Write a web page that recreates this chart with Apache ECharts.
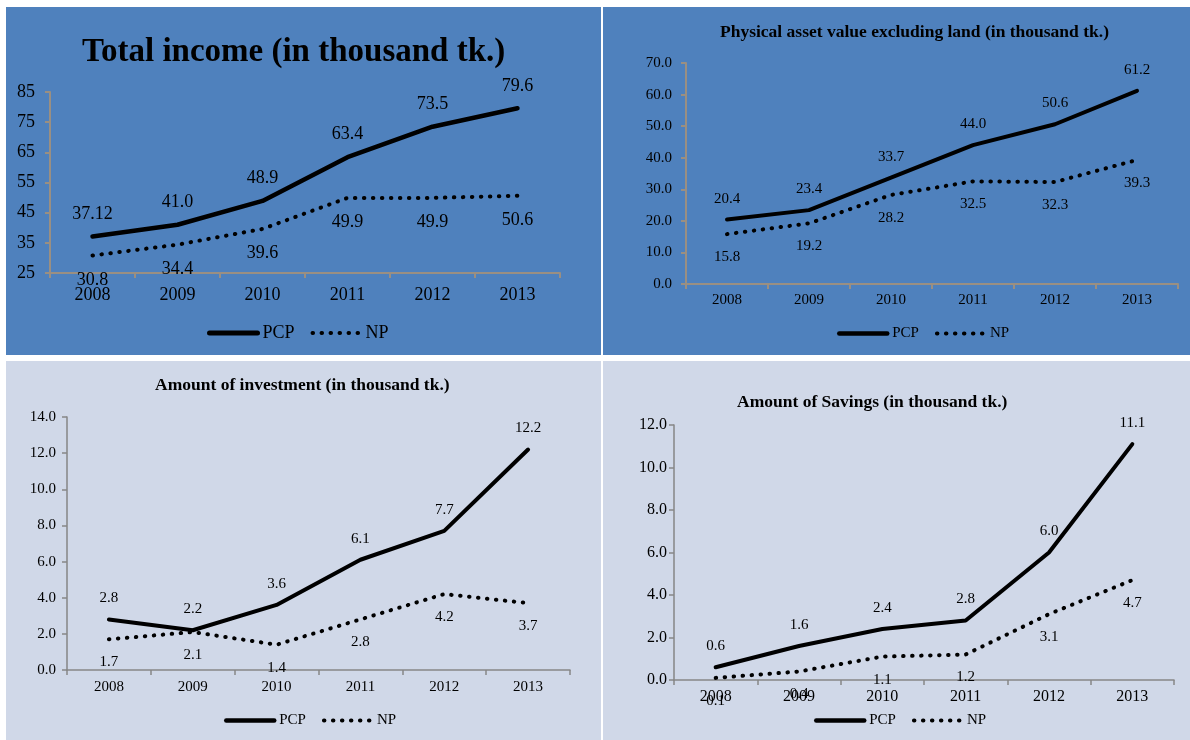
<!DOCTYPE html>
<html>
<head>
<meta charset="utf-8">
<script src="https://cdn.jsdelivr.net/npm/echarts@6/dist/echarts.min.js"></script>
<style>
  html, body { margin: 0; padding: 0; background: #fff; }
  body { width: 1190px; height: 740px; position: relative; overflow: hidden; }
  .panel { position: absolute; }
  #income  { left: 6px;   top: 7px;   width: 595px; height: 348px; background: #4f81bd; }
  #asset   { left: 603px; top: 7px;   width: 587px; height: 348px; background: #4f81bd; }
  #invest  { left: 6px;   top: 361px; width: 595px; height: 379px; background: #d0d8e8; }
  #savings { left: 603px; top: 361px; width: 587px; height: 379px; background: #d0d8e8; }
</style>
</head>
<body>
<div class="panel" id="income"></div>
<div class="panel" id="asset"></div>
<div class="panel" id="invest"></div>
<div class="panel" id="savings"></div>
<script>
  var years = ['2008', '2009', '2010', '2011', '2012', '2013'];

  // Total income
  var incomePCP = [37.12, 41.0, 48.9, 63.4, 73.5, 79.6];
  var incomeNP  = [30.8, 34.4, 39.6, 49.9, 49.9, 50.6];
  var incomeTicks = [25, 35, 45, 55, 65, 75, 85];

  // Physical asset value excluding land
  var assetPCP = [20.4, 23.4, 33.7, 44.0, 50.6, 61.2];
  var assetNP  = [15.8, 19.2, 28.2, 32.5, 32.3, 39.3];
  var assetTicks = [0, 10, 20, 30, 40, 50, 60, 70];

  // Amount of investment
  var investPCP = [2.8, 2.2, 3.6, 6.1, 7.7, 12.2];
  var investNP  = [1.7, 2.1, 1.4, 2.8, 4.2, 3.7];
  var investTicks = [0, 2, 4, 6, 8, 10, 12, 14];

  // Amount of Savings
  var savingsPCP = [0.6, 1.6, 2.4, 2.8, 6.0, 11.1];
  var savingsNP  = [0.1, 0.4, 1.1, 1.2, 3.1, 4.7];
  var savingsTicks = [0, 2, 4, 6, 8, 10, 12];

  var FONT = 'Liberation Serif';
  var DOTS = [0.5, 8.5];

  function fmtVal(v) {
    var t = v * 10;
    return Math.abs(t - Math.round(t)) < 1e-6 ? v.toFixed(1) : String(v);
  }

  function draw(id, c) {
    var chart = echarts.init(document.getElementById(id));
    var axisStyle = { color: c.axisColor, width: c.axisWidth };
    var solid = { color: '#000', width: c.lineWidth, cap: 'round' };
    var dotted = { color: '#000', width: 4, type: DOTS, cap: 'round' };
    function label(pos, dist) {
      return {
        show: true, position: pos, distance: dist, color: '#000',
        fontFamily: FONT, fontSize: c.labelSize,
        formatter: function (p) { return fmtVal(p.value); }
      };
    }
    chart.setOption({
      animation: false,
      title: {
        text: c.title, left: c.titleLeft, top: c.titleTop, padding: 0,
        textStyle: { fontFamily: FONT, fontWeight: 'bold', fontSize: c.titleSize, color: '#000' }
      },
      legend: {
        left: c.legendLeft, top: c.legendTop, padding: 0,
        itemWidth: 48, itemHeight: 14, itemGap: 16,
        textStyle: { fontFamily: FONT, fontSize: c.legendSize, color: '#000' },
        data: [
          { name: 'PCP', lineStyle: { color: '#000', width: c.lineWidth + 0.5, type: 'solid' }, itemStyle: { opacity: 0 } },
          { name: 'NP', lineStyle: { color: '#000', width: 4, type: DOTS, cap: 'round' }, itemStyle: { opacity: 0 } }
        ]
      },
      grid: c.grid,
      xAxis: {
        type: 'category', data: years, boundaryGap: true,
        axisLine: { show: true, lineStyle: axisStyle },
        axisTick: { show: true, length: 5, interval: 0, lineStyle: axisStyle },
        axisLabel: { margin: c.xMargin, color: '#000', fontFamily: FONT, fontSize: c.axisSize },
        splitLine: { show: false }
      },
      yAxis: {
        type: 'value',
        min: c.ticks[0], max: c.ticks[c.ticks.length - 1], interval: c.ticks[1] - c.ticks[0],
        axisLine: { show: true, lineStyle: axisStyle },
        axisTick: { show: true, length: 5, lineStyle: axisStyle },
        axisLabel: {
          margin: c.yMargin, color: '#000', fontFamily: FONT, fontSize: c.axisSize,
          formatter: function (v) { return c.intTicks ? String(v) : v.toFixed(1); }
        },
        splitLine: { show: false }
      },
      series: [
        {
          name: 'PCP', type: 'line', data: c.pcp,
          symbol: 'circle', symbolSize: 1,
          itemStyle: { color: 'transparent', borderWidth: 0 },
          lineStyle: solid,
          label: label('top', 13)
        },
        {
          name: 'NP', type: 'line', data: c.np,
          symbol: 'circle', symbolSize: 1,
          itemStyle: { color: 'transparent', borderWidth: 0 },
          lineStyle: dotted,
          label: label('bottom', 15)
        }
      ]
    });
  }

  draw('income', {
    title: 'Total income (in thousand tk.)', titleLeft: 76, titleTop: 29, titleSize: 33,
    legendLeft: 201, legendTop: 317, legendSize: 18,
    grid: { left: 44, right: 41, top: 85, bottom: 82, outerBoundsMode: 'none' },
    axisColor: '#9a8f82', axisWidth: 2, axisSize: 18, labelSize: 18,
    xMargin: 13, yMargin: 15, ticks: incomeTicks, intTicks: true,
    lineWidth: 4.5, pcp: incomePCP, np: incomeNP
  });

  draw('asset', {
    title: 'Physical asset value excluding land (in thousand tk.)', titleLeft: 117, titleTop: 16, titleSize: 17.5,
    legendLeft: 234, legendTop: 319, legendSize: 15,
    grid: { left: 83, right: 12, top: 56, bottom: 71, outerBoundsMode: 'none' },
    axisColor: '#9a8f82', axisWidth: 2, axisSize: 15, labelSize: 15,
    xMargin: 9, yMargin: 14, ticks: assetTicks, intTicks: false,
    lineWidth: 4, pcp: assetPCP, np: assetNP
  });

  draw('invest', {
    title: 'Amount of investment (in thousand tk.)', titleLeft: 149, titleTop: 15, titleSize: 17.5,
    legendLeft: 218, legendTop: 352, legendSize: 15,
    grid: { left: 61, right: 31, top: 56, bottom: 70, outerBoundsMode: 'none' },
    axisColor: '#868686', axisWidth: 1.5, axisSize: 15, labelSize: 15,
    xMargin: 10, yMargin: 11, ticks: investTicks, intTicks: false,
    lineWidth: 4, pcp: investPCP, np: investNP
  });

  draw('savings', {
    title: 'Amount of Savings (in thousand tk.)', titleLeft: 134, titleTop: 32, titleSize: 17.5,
    legendLeft: 211, legendTop: 352, legendSize: 15,
    grid: { left: 71, right: 16, top: 64, bottom: 60, outerBoundsMode: 'none' },
    axisColor: '#868686', axisWidth: 1.5, axisSize: 16, labelSize: 15,
    xMargin: 9, yMargin: 7, ticks: savingsTicks, intTicks: false,
    lineWidth: 4, pcp: savingsPCP, np: savingsNP
  });
</script>
</body>
</html>
